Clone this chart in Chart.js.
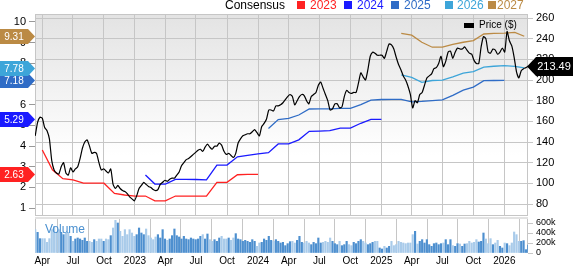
<!DOCTYPE html>
<html>
<head>
<meta charset="utf-8">
<title>Price and Consensus EPS</title>
<script src="https://cdn.jsdelivr.net/npm/chart.js"></script>
<style>
    body { margin: 0; background: #fff; font-family: 'Liberation Sans', Arial, sans-serif; }
    #wrap { position: relative; width: 573px; height: 266px; overflow: hidden; }
    #mainChart { position: absolute; left: 0; top: 0; }
    #volChart { position: absolute; left: 0; top: 209px; }
    .txt { position: absolute; white-space: nowrap; font-size: 12px; line-height: 12px; }
    .sq { position: absolute; width: 8px; height: 8px; }
</style>
</head>
<body>
<div id="wrap">
    <canvas id="mainChart" width="573" height="226"></canvas>
    <canvas id="volChart" width="573" height="57"></canvas>

    <!-- consensus legend -->
    <div class="txt" style="left:225px;top:-1px;color:#000">Consensus</div>
    <div class="sq" style="left:297px;top:1px;background:#ff2222"></div>
    <div class="txt" style="left:310px;top:-1px;color:#ff2222">2023</div>
    <div class="sq" style="left:344px;top:1px;background:#1a1aff"></div>
    <div class="txt" style="left:357px;top:-1px;color:#1a1aff">2024</div>
    <div class="sq" style="left:391px;top:1px;background:#2f6cc6"></div>
    <div class="txt" style="left:404px;top:-1px;color:#2f6cc6">2025</div>
    <div class="sq" style="left:445px;top:1px;background:#3da5d9"></div>
    <div class="txt" style="left:457px;top:-1px;color:#3da5d9">2026</div>
    <div class="sq" style="left:488px;top:1px;background:#bb8a44"></div>
    <div class="txt" style="left:497px;top:-1px;color:#bb8a44">2027</div>

    <!-- price legend -->
    <div class="sq" style="left:464px;top:23px;width:10px;height:5px;background:#000"></div>
    <div class="txt" style="left:479px;top:20px;font-size:10px;line-height:10px;color:#000">Price ($)</div>

    <div class="txt" style="left:45px;top:223px;color:#4a90d0">Volume</div>
</div>

<script>
    // weekly closing price, starting 2022-03-11
    const priceStart = [2022, 3, 11];
    const price = [
        146, 159, 164, 163, 154, 151, 143, 122, 113, 110,
        109, 116, 120, 110, 108, 115, 111, 114, 116, 124,
        134, 140, 142, 136, 129, 130, 129, 120, 113, 114,
        112, 110, 114, 99, 95, 98, 95, 93, 92, 90,
        87, 85, 83, 88, 95, 98, 101, 99, 97, 96,
        94, 93, 94, 99, 101, 103, 102, 104, 105, 105,
        108, 111, 117, 120, 123, 124, 126, 128, 130, 132,
        133, 131, 135, 138, 135, 133, 136, 136, 139, 137,
        131, 128, 129, 127, 125, 129, 139, 143, 146, 147,
        148, 148, 150, 152, 149, 146, 155, 158, 162, 171,
        171, 170, 175, 175, 176, 178, 181, 184, 186, 184,
        176, 180, 184, 186, 185, 180, 177, 184, 186, 188,
        195, 198, 192, 186, 180, 171, 172, 177, 177, 173,
        174, 184, 190, 188, 187, 188, 188, 197, 207, 203,
        200, 210, 223, 227, 226, 224, 224, 224, 221, 228,
        235, 234, 230, 222, 215, 210, 204, 200, 194, 186,
        173, 180, 178, 186, 188, 195, 202, 204, 206, 211,
        212, 216, 223, 213, 218, 227, 228, 221, 227, 231,
        230, 230, 232, 229, 226, 225, 219, 216, 216, 232,
        242, 240, 227, 226, 230, 229, 225, 227, 231, 227,
        247, 238, 233, 222, 208, 202, 209, 211, 212, 213.49
    ];

    // weekly volume (shares)
    const volume = [
        467, 413, 287, 287, 287, 213, 287, 467, 533, 400,
        467, 413, 367, 400, 413, 333, 233, 280, 300, 280,
        253, 300, 233, 233, 213, 267, 233, 280, 280, 233,
        280, 267, 347, 500, 653, 600, 433, 333, 467, 367,
        467, 400, 333, 367, 500, 400, 367, 480, 347, 300,
        267, 320, 367, 300, 467, 280, 253, 280, 347, 480,
        347, 320, 280, 333, 280, 267, 300, 280, 267, 280,
        333, 367, 280, 380, 267, 233, 267, 233, 300, 333,
        280, 280, 300, 253, 300, 387, 280, 267, 233, 253,
        233, 213, 267, 233, 133, 200, 213, 280, 253, 333,
        253, 233, 267, 233, 200, 213, 147, 187, 227, 233,
        200, 253, 333, 213, 200, 233, 200, 167, 213, 187,
        300, 200, 213, 233, 213, 300, 233, 187, 167, 233,
        147, 167, 233, 167, 147, 213, 187, 233, 267, 233,
        200, 167, 187, 213, 233, 233, 100, 80, 133, 100,
        133, 233, 147, 167, 233, 213, 200, 187, 200, 200,
        367, 433, 180, 233, 267, 200, 267, 167, 133, 187,
        200, 167, 187, 200, 267, 167, 267, 147, 133, 187,
        180, 133, 180, 187, 233, 200, 213, 267, 220, 233,
        400, 280, 187, 287, 167, 200, 253, 133, 100, 200,
        187, 147, 200, 420, 367, 233, 233, 247, 67, 160
    ].map(v => v * 1000);

    // monthly consensus EPS by fiscal year (first month given)
    const eps2023Start = [2022, 4];
    const eps2023 = [3.81, 2.85, 2.42, 2.36, 2.2, 2.2, 2.2, 1.71, 1.63, 1.58, 1.58, 1.35,
                     1.35, 1.58, 1.58, 1.58, 1.58, 2.24, 2.24, 2.61, 2.63, 2.63];
    const eps2024Start = [2023, 2];
    const eps2024 = [2.6, 2.16, 2.16, 2.39, 2.39, 2.38, 2.36, 3.08, 3.08, 3.48, 3.55, 3.62,
                     3.68, 4.1, 4.1, 4.3, 4.71, 4.72, 4.74, 4.87, 4.87, 5.1, 5.29, 5.29];
    const eps2025Start = [2024, 2];
    const eps2025 = [4.85, 5.28, 5.34, 5.5, 5.79, 5.8, 5.8, 5.82, 5.82, 6.0, 6.22, 6.25,
                     6.26, 6.26, 6.14, 6.16, 6.2, 6.23, 6.45, 6.7, 6.85, 7.16, 7.17, 7.18];
    const eps2026Start = [2025, 3];
    const eps2026 = [7.44, 7.32, 7.08, 7.17, 7.19, 7.35, 7.53, 7.6, 7.82, 7.86, 7.89, 7.85, 7.78];
    const eps2027Start = [2025, 3];
    const eps2027 = [9.45, 9.36, 9.02, 8.78, 8.78, 8.92, 9.02, 9.1, 9.42, 9.45, 9.46, 9.5, 9.31];

    // axes
    const tickLabels = ['Apr', 'Jul', 'Oct', '2023', 'Apr', 'Jul', 'Oct', '2024',
                        'Apr', 'Jul', 'Oct', '2025', 'Apr', 'Jul', 'Oct', '2026'];
    const epsTicks = [1, 2, 3, 4, 5, 6, 7, 8, 9, 10];
    const priceTicks = [80, 100, 120, 140, 160, 180, 200, 220, 240, 260];
    const volTicks = [0, 200000, 400000, 600000];

    const gridColor = '#c6c6c6';
    const darkBar = '#4d8fcf';
    const lightBar = '#a9cbea';

    // days since 2022-01-01
    function dayOf(y, m, d) {
        return (Date.UTC(y, m - 1, d || 1) - Date.UTC(2022, 0, 1)) / 864e5;
    }
    function monthly(start, values) {
        return values.map((v, i) => {
            const m = start[1] - 1 + i;
            return { x: dayOf(start[0] + Math.floor(m / 12), (m % 12) + 1, 1), y: v };
        });
    }

    const xMin = 68.3, xMax = 1531.1;
    const tickDays = tickLabels.map((t, i) => {
        const m = 3 + i * 3;
        return dayOf(2022 + Math.floor(m / 12), (m % 12) + 1, 1);
    });

    const day0 = dayOf(priceStart[0], priceStart[1], priceStart[2]);
    const pricePts = price.map((v, i) => ({ x: day0 + 7 * i, y: v }));
    const volPts = volume.map((v, i) => ({ x: day0 + 7 * i, y: v }));
    const volColors = price.map((v, i) => (i > 0 && v >= price[i - 1]) ? darkBar : lightBar);

    const epsSeries = [
        { label: '2023', pts: monthly(eps2023Start, eps2023), color: '#ff2222' },
        { label: '2024', pts: monthly(eps2024Start, eps2024), color: '#1a1aff' },
        { label: '2025', pts: monthly(eps2025Start, eps2025), color: '#2f6cc6' },
        { label: '2026', pts: monthly(eps2026Start, eps2026), color: '#3da5d9' },
        { label: '2027', pts: monthly(eps2027Start, eps2027), color: '#bb8a44' }
    ];

    // grey-to-white panel background and frame
    const panelBg = {
        id: 'panelBg',
        beforeDraw(chart) {
            const { ctx, chartArea: a } = chart;
            const g = ctx.createLinearGradient(0, a.top, 0, a.bottom);
            g.addColorStop(0, '#e3e3e3');
            g.addColorStop(0.7, '#ffffff');
            ctx.save();
            ctx.fillStyle = g;
            ctx.fillRect(a.left, a.top, a.right - a.left, a.bottom - a.top);
            ctx.restore();
        },
        beforeDatasetsDraw(chart) {
            const { ctx, chartArea: a } = chart;
            ctx.save();
            ctx.strokeStyle = gridColor;
            ctx.lineWidth = 1;
            ctx.strokeRect(a.left + 0.5, a.top + 0.5, a.right - a.left - 1, a.bottom - a.top - 1);
            ctx.restore();
        }
    };

    // last-value tags on both axes
    const valueTags = {
        id: 'valueTags',
        afterDraw(chart) {
            const ctx = chart.ctx;
            const yE = chart.scales.yEps, yP = chart.scales.yPrice;
            ctx.save();
            ctx.textAlign = 'center';
            ctx.textBaseline = 'middle';
            epsSeries.forEach(s => {
                const v = s.pts[s.pts.length - 1].y;
                const cy = Math.round(yE.getPixelForValue(v)) + 0.5;
                ctx.fillStyle = s.color;
                ctx.beginPath();
                ctx.moveTo(0, cy - 7.5);
                ctx.lineTo(28, cy - 7.5);
                ctx.lineTo(35, cy);
                ctx.lineTo(28, cy + 7.5);
                ctx.lineTo(0, cy + 7.5);
                ctx.closePath();
                ctx.fill();
                ctx.fillStyle = '#fff';
                ctx.font = '10px "Liberation Sans", Arial, sans-serif';
                ctx.fillText(v.toFixed(2), 14, cy + 0.5);
            });
            const last = price[price.length - 1];
            const py = Math.round(yP.getPixelForValue(last)) + 0.5;
            ctx.fillStyle = '#000';
            ctx.beginPath();
            ctx.moveTo(527, py);
            ctx.lineTo(536, py - 9.5);
            ctx.lineTo(573, py - 9.5);
            ctx.lineTo(573, py + 9.5);
            ctx.lineTo(536, py + 9.5);
            ctx.closePath();
            ctx.fill();
            ctx.fillStyle = '#fff';
            ctx.font = '11px "Liberation Sans", Arial, sans-serif';
            ctx.fillText(last.toFixed(2), 554, py + 0.5);
            ctx.restore();
        }
    };

    Chart.defaults.font.family = '"Liberation Sans", Arial, sans-serif';
    Chart.defaults.color = '#000';

    const datasets = [{
        label: 'Price ($)',
        data: pricePts,
        yAxisID: 'yPrice',
        borderColor: '#000',
        borderWidth: 1.2,
        pointRadius: 0,
        tension: 0.2
    }];
    epsSeries.forEach(s => datasets.push({
        label: s.label,
        data: s.pts,
        yAxisID: 'yEps',
        borderColor: s.color,
        borderWidth: 1.3,
        pointRadius: 0,
        tension: 0
    }));

    // main panel: chart area 35..528 x 14..216
    new Chart(document.getElementById('mainChart'), {
        type: 'line',
        data: { datasets: datasets },
        options: {
            responsive: false,
            animation: false,
            devicePixelRatio: 1,
            layout: { padding: { top: 14, right: 0, bottom: 0, left: 0 } },
            plugins: { legend: { display: false }, tooltip: { enabled: false } },
            scales: {
                x: {
                    type: 'linear', min: xMin, max: xMax,
                    afterBuildTicks: s => { s.ticks = tickDays.map(v => ({ value: v })); },
                    ticks: { display: false },
                    grid: { color: gridColor, drawTicks: false },
                    border: { display: false },
                    afterFit: s => { s.height = 10; }
                },
                yEps: {
                    position: 'left', min: 0.614, max: 10.387,
                    afterBuildTicks: s => { s.ticks = epsTicks.map(v => ({ value: v })); },
                    ticks: { font: { size: 11 }, padding: 3, autoSkip: false },
                    grid: { drawOnChartArea: false, tickLength: 6, color: '#999' },
                    border: { display: false },
                    afterFit: s => { s.width = 35; }
                },
                yPrice: {
                    position: 'right', min: 68.4, max: 263.9,
                    afterBuildTicks: s => { s.ticks = priceTicks.map(v => ({ value: v })); },
                    ticks: { font: { size: 11 }, padding: 3, autoSkip: false },
                    grid: { color: gridColor, tickLength: 5 },
                    border: { display: false },
                    afterFit: s => { s.width = 45; }
                }
            }
        },
        plugins: [panelBg, valueTags]
    });

    // volume panel with separator band: chart area 35..528 x 219..253
    const volPanel = {
        id: 'volPanel',
        beforeDraw(chart) {
            const { ctx, chartArea: a } = chart;
            ctx.save();
            ctx.fillStyle = '#ffffff';
            ctx.fillRect(a.left, a.top, a.right - a.left, a.bottom - a.top);
            ctx.fillStyle = '#e2e2e2';
            ctx.fillRect(a.left, a.top - 2, a.right - a.left, 2);
            ctx.restore();
        },
        beforeDatasetsDraw(chart) {
            const { ctx, chartArea: a } = chart;
            ctx.save();
            ctx.strokeStyle = gridColor;
            ctx.beginPath();
            ctx.moveTo(a.left + 0.5, a.top); ctx.lineTo(a.left + 0.5, a.bottom);
            ctx.moveTo(a.right - 0.5, a.top); ctx.lineTo(a.right - 0.5, a.bottom);
            ctx.stroke();
            ctx.restore();
        }
    };

    new Chart(document.getElementById('volChart'), {
        type: 'bar',
        data: {
            datasets: [{
                label: 'Volume',
                data: volPts,
                yAxisID: 'yVol',
                backgroundColor: volColors,
                barThickness: 1.5
            }]
        },
        options: {
            responsive: false,
            animation: false,
            devicePixelRatio: 1,
            layout: { padding: { top: 10, right: 0, bottom: 0, left: 35 } },
            plugins: { legend: { display: false }, tooltip: { enabled: false } },
            scales: {
                x: {
                    type: 'linear', min: xMin, max: xMax, offset: false,
                    afterBuildTicks: s => { s.ticks = tickDays.map(v => ({ value: v })); },
                    ticks: {
                        callback: (v, i) => tickLabels[i],
                        font: { size: 10 }, padding: 2,
                        maxRotation: 0, autoSkip: false
                    },
                    grid: { color: gridColor, drawTicks: false },
                    border: { display: false },
                    afterFit: s => { s.height = 13; }
                },
                yVol: {
                    position: 'right', min: 0, max: 680000,
                    afterBuildTicks: s => { s.ticks = volTicks.map(v => ({ value: v })); },
                    ticks: {
                        callback: v => v === 0 ? '0' : (v / 1000) + 'k',
                        font: { size: 9 }, padding: 3, autoSkip: false
                    },
                    grid: { drawOnChartArea: false, tickLength: 5, color: gridColor },
                    border: { display: false },
                    afterFit: s => { s.width = 45; }
                }
            }
        },
        plugins: [volPanel]
    });
</script>
</body>
</html>
